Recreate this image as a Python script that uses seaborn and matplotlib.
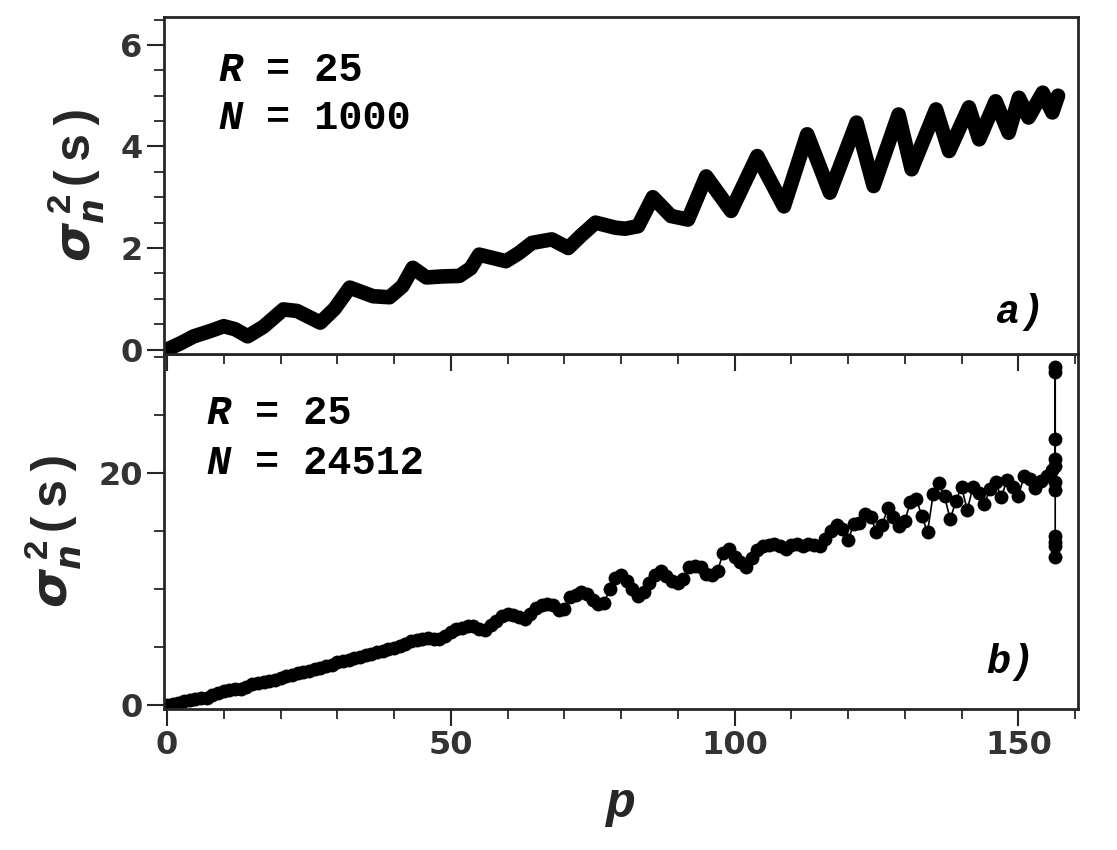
import numpy as np
import pandas as pd
import matplotlib
matplotlib.use("Agg")
import matplotlib.pyplot as plt
import matplotlib.transforms as mtransforms
import seaborn as sns
from matplotlib.ticker import MultipleLocator

# panel a) : R = 25, N = 1000
p_a = [0, 2.5, 4.7, 7.5, 10, 12, 14.2, 17, 20.5, 22.9,
       27, 29.5, 32.2, 36.3, 39.2, 41.5, 43.3, 45.7, 48.5, 51.5,
       53.5, 55, 59.7, 62, 64.3, 67.8, 70.7, 73, 75.5, 79,
       80.7, 83, 85.6, 88.8, 91.8, 95, 99.4, 104, 108.7, 112.8,
       116.8, 121.5, 124.5, 128.9, 131.2, 135.5, 137.8, 141.3, 143.1, 146,
       148.3, 150.1, 151.8, 154.3, 156, 157]
sig_a = [0, 0.13, 0.26, 0.36, 0.46, 0.4, 0.26, 0.45, 0.79, 0.76,
         0.53, 0.8, 1.22, 1.05, 1.03, 1.25, 1.61, 1.42, 1.44, 1.45,
         1.6, 1.87, 1.74, 1.9, 2.1, 2.17, 2.0, 2.25, 2.5, 2.4,
         2.38, 2.43, 3.0, 2.63, 2.56, 3.41, 2.73, 3.81, 2.82, 4.24,
         3.09, 4.47, 3.22, 4.63, 3.55, 4.73, 3.91, 4.77, 4.14, 4.89,
         4.27, 4.96, 4.57, 5.06, 4.67, 5.0]

# panel b) : R = 25, N = 24512  (p = 0..156, then the spread at the last p)
sig_b = [0.0, 0.1, 0.25, 0.4, 0.5, 0.55, 0.6, 0.65, 0.9, 1.1,
         1.25, 1.3, 1.4, 1.45, 1.6, 1.8, 1.95, 2.0, 2.1, 2.2,
         2.35, 2.5, 2.6, 2.75, 2.85, 3.0, 3.1, 3.25, 3.4, 3.5,
         3.7, 3.8, 3.95, 4.05, 4.2, 4.3, 4.45, 4.6, 4.7, 4.85,
         4.95, 5.1, 5.3, 5.5, 5.6, 5.75, 5.8, 5.75, 5.7, 6.0,
         6.3, 6.6, 6.7, 6.8, 6.85, 6.6, 6.5, 6.9, 7.3, 7.7,
         7.9, 7.8, 7.6, 7.45, 7.9, 8.4, 8.6, 8.75, 8.6, 8.2,
         8.3, 9.3, 9.5, 9.75, 9.6, 9.1, 8.75, 8.8, 10.0, 11.0,
         11.2, 10.7, 10.0, 9.4, 9.8, 10.5, 11.2, 11.6, 11.1, 10.7,
         10.5, 10.9, 11.9, 12.0, 11.9, 11.3, 11.2, 11.6, 13.1, 13.5,
         12.8, 12.3, 11.9, 12.7, 13.4, 13.7, 13.8, 13.9, 13.7, 13.5,
         13.8, 13.9, 13.7, 13.9, 13.8, 13.7, 14.3, 15.0, 15.5, 15.2,
         14.2, 15.6, 15.7, 16.5, 16.2, 14.9, 15.5, 17.0, 16.2, 15.4,
         15.9, 17.5, 17.8, 16.3, 14.9, 18.2, 19.1, 18.0, 16.0, 17.6,
         18.8, 16.8, 18.8, 18.3, 17.3, 18.6, 19.2, 17.9, 19.4, 18.8,
         18.0, 19.7, 19.5, 18.7, 19.3, 19.7, 20.3]
p_b = list(range(len(sig_b)))
p_last = 156.5
sig_last = [21.2, 22.9, 28.7, 29.1, 20.6, 19.2, 18.5, 14.6, 14.1, 13.7, 12.8]

df_a = pd.DataFrame({"p": p_a, "sigma": sig_a})
df_b = pd.DataFrame({"p": p_b + [p_last] * len(sig_last),
                     "sigma": sig_b + sig_last})

sns.set_style("ticks")
plt.rcParams["font.family"] = ["DejaVu Sans"]
plt.rcParams["mathtext.fontset"] = "custom"
plt.rcParams["mathtext.it"] = "DejaVu Sans:italic:bold"
plt.rcParams["mathtext.rm"] = "Liberation Mono:bold"
plt.rcParams["mathtext.bf"] = "DejaVu Sans:bold"

fig = plt.figure(figsize=(11.17, 8.5), dpi=100)
ax_a = fig.add_axes([0.147, 0.584, 0.818, 0.396])
ax_b = fig.add_axes([0.147, 0.166, 0.818, 0.417])
ax_a.set_zorder(2)

sns.lineplot(data=df_a, x="p", y="sigma", ax=ax_a, color="black",
             linewidth=10.5, estimator=None, sort=False,
             solid_joinstyle="round", solid_capstyle="round")
sns.lineplot(data=df_b, x="p", y="sigma", ax=ax_b, color="black",
             linewidth=1.2, marker="o", markersize=10, markeredgewidth=0,
             estimator=None, sort=False)

mono = "Liberation Mono"
tick_col = "#333333"
ylab = r"$\sigma_{n}^{\,\mathrm{2}}\mathrm{(s)}$"

for ax in (ax_a, ax_b):
    ax.set_xlim(-0.5, 160.5)
    ax.xaxis.set_major_locator(MultipleLocator(50))
    ax.xaxis.set_minor_locator(MultipleLocator(10))
    ax.tick_params(axis="both", which="major", length=12, width=1.5,
                   labelsize=23, labelcolor=tick_col, direction="out")
    ax.tick_params(axis="both", which="minor", length=7, width=1.3,
                   direction="out")
    for s in ax.spines.values():
        s.set_visible(True)
        s.set_linewidth(2)
    ax.set_ylabel(ylab, fontsize=36, labelpad=10)

ax_a.set_ylim(-0.08, 6.55)
ax_a.yaxis.set_major_locator(MultipleLocator(2))
ax_a.yaxis.set_minor_locator(MultipleLocator(0.5))
ax_a.set_xlabel("")
ax_a.tick_params(axis="x", labelbottom=False)

ax_b.set_ylim(-0.3, 30.2)
ax_b.yaxis.set_major_locator(MultipleLocator(20))
ax_b.yaxis.set_minor_locator(MultipleLocator(5))
ax_b.set_xlabel("p", fontsize=36, fontfamily=mono, fontweight="bold",
                fontstyle="italic", labelpad=14)

for lab in ax_a.get_yticklabels() + ax_b.get_xticklabels() + ax_b.get_yticklabels():
    lab.set_fontweight("bold")

fs = 29
txt = dict(fontsize=fs, fontfamily=mono, fontweight="bold", color="black")
char_w = 0.6 * fs  # advance of one monospace char, in points


def params(ax, x, y1, y2, R, N):
    shifted = mtransforms.offset_copy(ax.transAxes, fig=fig, x=2 * char_w, y=0, units="points")
    ax.text(x, y1, "R", fontstyle="italic", transform=ax.transAxes, **txt)
    ax.text(x, y1, "= " + R, transform=shifted, **txt)
    ax.text(x, y2, "N", fontstyle="italic", transform=ax.transAxes, **txt)
    ax.text(x, y2, "= " + N, transform=shifted, **txt)


params(ax_a, 0.059, 0.81, 0.667, "25", "1000")
params(ax_b, 0.046, 0.804, 0.663, "25", "24512")
ax_a.text(0.91, 0.09, "a)", fontstyle="italic", transform=ax_a.transAxes, **txt)
ax_b.text(0.90, 0.10, "b)", fontstyle="italic", transform=ax_b.transAxes, **txt)

fig.savefig("out.png", dpi=100, facecolor="white")
